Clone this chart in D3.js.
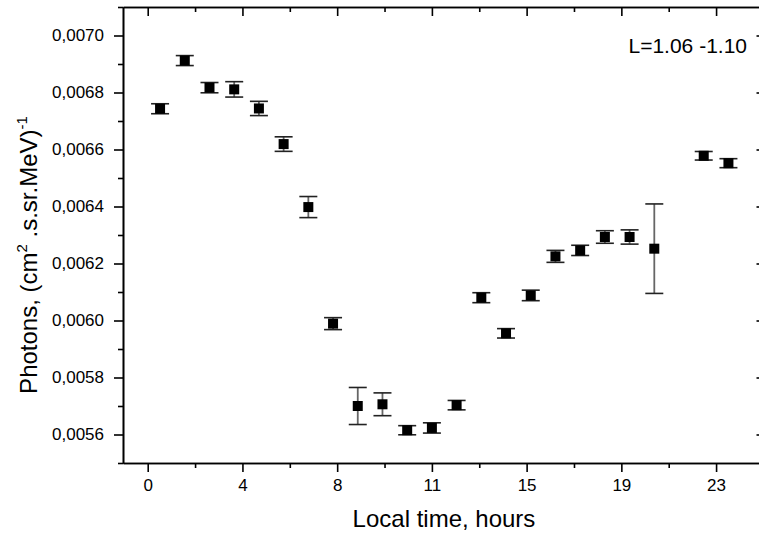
<!DOCTYPE html>
<html>
<head>
<meta charset="utf-8">
<script src="https://cdn.jsdelivr.net/npm/d3@7"></script>
<style>
body { margin: 0; background: #fff; }
text { font-family: "Liberation Sans", Arial, sans-serif; fill: #000; }
.axis path, .axis line { stroke: #000; stroke-width: 1.6; }
</style>
</head>
<body>
<div id="chart"></div>
<script>
// local time (hour bin centres), photon flux and its error
var hours   = [0.5, 1.5, 2.5, 3.5, 4.5, 5.5, 6.5, 7.5, 8.5, 9.5, 10.5, 11.5,
               12.5, 13.5, 14.5, 15.5, 16.5, 17.5, 18.5, 19.5, 20.5, 22.5, 23.5];
var photons = [0.006743, 0.006912, 0.006817, 0.006811, 0.006744, 0.006619, 0.006398, 0.005989,
               0.005700, 0.005706, 0.005615, 0.005623, 0.005703, 0.006080, 0.005955, 0.006088,
               0.006225, 0.006246, 0.006293, 0.006293, 0.006252, 0.006578, 0.006552];
var errors  = [0.0000175, 0.0000175, 0.000018, 0.000027, 0.000025, 0.0000255, 0.000037, 0.000021,
               0.000065, 0.00004, 0.000016, 0.000018, 0.0000165, 0.0000175, 0.0000165, 0.0000185,
               0.000021, 0.000018, 0.000022, 0.000025, 0.000157, 0.000015, 0.0000158];

var xTickLabels = ["0", "4", "8", "11", "15", "19", "23"];
var yTicks = [0.0056, 0.0058, 0.0060, 0.0062, 0.0064, 0.0066, 0.0068, 0.0070];
var yMinorTicks = [0.0055, 0.0057, 0.0059, 0.0061, 0.0063, 0.0065, 0.0067, 0.0069, 0.0071];
var seriesLabel = "L=1.06 -1.10";

var W = 759, H = 534;
var margin = {top: 7, right: -6.5, bottom: 71, left: 123},
    width = W - margin.left - margin.right,
    height = H - margin.top - margin.bottom;

// major x ticks are spread evenly from 0 to 23
var xTicks = xTickLabels.map(function(d, i) { return i * 23 / 6; });
var xMinorTicks = xTicks.slice(1).map(function(d) { return d - 23 / 12; });

var x = d3.scaleLinear().domain([-1, 25]).range([0, width]);
var y = d3.scaleLinear().domain([0.0055, 0.0071]).range([height, 0]);

var svg = d3.select("#chart").append("svg")
    .attr("width", W)
    .attr("height", H);

var g = svg.append("g")
    .attr("transform", "translate(" + margin.left + "," + margin.top + ")");

function noLabels() { return ""; }

// bottom
g.append("g").attr("class", "axis")
    .attr("transform", "translate(0," + height + ")")
    .call(d3.axisBottom(x).tickValues(xMinorTicks).tickSize(5).tickSizeOuter(0).tickFormat(noLabels));
var xb = g.append("g").attr("class", "axis")
    .attr("transform", "translate(0," + height + ")")
    .call(d3.axisBottom(x).tickValues(xTicks).tickSize(9).tickSizeOuter(0).tickPadding(7)
      .tickFormat(function(d, i) { return xTickLabels[i]; }));
xb.selectAll("text").style("font-size", "17px");

// top
g.append("g").attr("class", "axis")
    .call(d3.axisTop(x).tickValues(xMinorTicks).tickSize(-5).tickSizeOuter(0).tickFormat(noLabels));
g.append("g").attr("class", "axis")
    .call(d3.axisTop(x).tickValues(xTicks).tickSize(-9).tickSizeOuter(0).tickFormat(noLabels));

// left
g.append("g").attr("class", "axis")
    .call(d3.axisLeft(y).tickValues(yMinorTicks).tickSize(5).tickSizeOuter(0).tickFormat(noLabels));
var yl = g.append("g").attr("class", "axis")
    .call(d3.axisLeft(y).tickValues(yTicks).tickSize(9).tickSizeOuter(0).tickPadding(10)
      .tickFormat(function(d) { return d3.format(".4f")(d).replace(".", ","); }));
yl.selectAll("text").style("font-size", "17px");

// right
g.append("g").attr("class", "axis")
    .attr("transform", "translate(" + width + ",0)")
    .call(d3.axisRight(y).tickValues(yTicks).tickSize(-9).tickSizeOuter(0).tickFormat(noLabels));

// error bars
var pts = hours.map(function(h, i) { return {h: h, v: photons[i], e: errors[i]}; });

var bars = g.append("g").selectAll("g.err")
    .data(pts)
    .enter().append("g")
    .attr("class", "err");

bars.append("line")
    .attr("x1", function(d) { return x(d.h); })
    .attr("x2", function(d) { return x(d.h); })
    .attr("y1", function(d) { return y(d.v + d.e); })
    .attr("y2", function(d) { return y(d.v - d.e); })
    .attr("stroke", "#666")
    .attr("stroke-width", 1.8);

[1, -1].forEach(function(s) {
  bars.append("line")
      .attr("x1", function(d) { return x(d.h) - 9; })
      .attr("x2", function(d) { return x(d.h) + 9; })
      .attr("y1", function(d) { return y(d.v + s * d.e); })
      .attr("y2", function(d) { return y(d.v + s * d.e); })
      .attr("stroke", "#222")
      .attr("stroke-width", 1.6);
});

g.append("g").selectAll("rect")
    .data(pts)
    .enter().append("rect")
    .attr("x", function(d) { return x(d.h) - 5; })
    .attr("y", function(d) { return y(d.v) - 5; })
    .attr("width", 10)
    .attr("height", 10)
    .attr("fill", "#000");

// labels
g.append("text")
    .attr("x", 624)
    .attr("y", 46)
    .attr("text-anchor", "end")
    .style("font-size", "21px")
    .text(seriesLabel);

svg.append("text")
    .attr("x", 444)
    .attr("y", 527)
    .attr("text-anchor", "middle")
    .style("font-size", "24px")
    .text("Local time, hours");

var yTitle = svg.append("text")
    .attr("transform", "translate(37,255) rotate(-90)")
    .attr("text-anchor", "middle")
    .style("font-size", "24px");
yTitle.append("tspan").text("Photons, (cm");
yTitle.append("tspan").attr("dy", -10).style("font-size", "15px").text("2");
yTitle.append("tspan").attr("dy", 10).text(" .s.sr.MeV)");
yTitle.append("tspan").attr("dy", -10).style("font-size", "15px").text("-1");
</script>
</body>
</html>
